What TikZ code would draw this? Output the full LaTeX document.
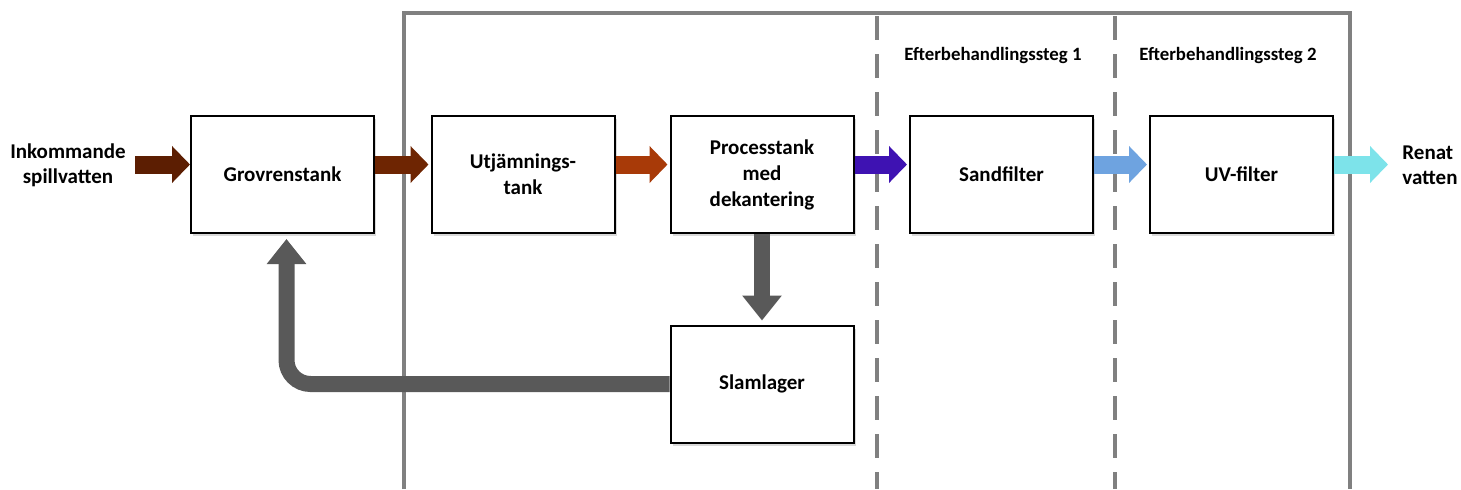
\documentclass[tikz,border=0pt]{standalone}
\usepackage{fontspec}
\setmainfont{Carlito}
\usetikzlibrary{arrows.meta,shadows}
% flow colours
\definecolor{rawwater}{RGB}{92,30,2}
\definecolor{coarsewater}{RGB}{110,37,2}
\definecolor{evenwater}{RGB}{168,58,8}
\definecolor{decantwater}{RGB}{62,18,178}
\definecolor{sandwater}{RGB}{110,163,224}
\definecolor{cleanwater}{RGB}{125,227,234}
\definecolor{sludge}{RGB}{89,89,89}
\definecolor{framegray}{RGB}{128,128,128}
\begin{document}
\begin{tikzpicture}[x=0.5pt,y=-0.5pt,
    tank/.style={draw, line width=1pt, fill=white, minimum width=91.5pt, minimum height=58.5pt,
        align=center, font=\bfseries\fontsize{10.5}{13}\selectfont,
        drop shadow={opacity=0.3, shadow xshift=1pt, shadow yshift=-1.5pt}},
    label/.style={align=center, inner sep=0pt, font=\bfseries\fontsize{10.5}{12.5}\selectfont},
    steplabel/.style={inner sep=0pt, font=\bfseries\fontsize{9.4}{11}\selectfont},
    flow/.style={line width=9pt, -{Triangle[length=9pt,width=18pt]}},
    sludgeflow/.style={sludge, line width=8pt, -{Triangle[length=12.5pt,width=19pt]}}]
    \useasboundingbox (0,0) rectangle (1461,489);
    % Plant frame and step borders
    \draw[framegray, line width=2pt] (404,489) -- (404,13) -- (1350,13) -- (1350,489);
    \draw[framegray, line width=2pt, dash pattern=on 12pt off 7pt] (877,16) -- (877,489);
    \draw[framegray, line width=2pt, dash pattern=on 12pt off 7pt] (1115,16) -- (1115,489);
    \node[steplabel] (step1) at (993,55) {Efterbehandlingssteg 1};
    \node[steplabel] (step2) at (1228,55) {Efterbehandlingssteg 2};
    % Tanks
    \node[tank] (grov) at (282.5,174.5) {Grovrenstank};
    \node[tank] (utj) at (523,174.5) {Utjämnings-\\tank};
    \node[tank] (proc) at (762,174.5) {Processtank\\med\\dekantering};
    \node[tank] (sand) at (1001.5,174.5) {Sandfilter};
    \node[tank] (uv) at (1241.5,174.5) {UV-filter};
    \node[tank] (slam) at (762,384) {Slamlager};
    % In and out
    \node[label] (in) at (68,165) {Inkommande\\spillvatten};
    \node[label, anchor=west, align=left] (out) at (1402,165) {Renat\\vatten};
    % Water flow
    \draw[flow, rawwater, shorten <=4.5pt] ([yshift=5pt]grov.west -| in.east) -- ([yshift=5pt]grov.west);
    \draw[flow, coarsewater, shorten >=1pt] ([yshift=5pt]grov.east) -- ([yshift=5pt]utj.west);
    \draw[flow, evenwater, shorten >=1pt] ([yshift=5pt]utj.east) -- ([yshift=5pt]proc.west);
    \draw[flow, decantwater, shorten >=1pt] ([yshift=5pt]proc.east) -- ([yshift=5pt]sand.west);
    \draw[flow, sandwater, shorten >=1pt] ([yshift=5pt]sand.east) -- ([yshift=5pt]uv.west);
    \draw[flow, cleanwater, shorten >=7pt] ([yshift=5pt]uv.east) -- ([yshift=5pt]uv.east -| out.west);
    % Sludge
    \draw[sludgeflow, shorten >=2pt] (proc.south) -- (slam.north);
    \draw[sludgeflow, rounded corners=12pt] (slam.west) -| ([xshift=2pt,yshift=-2.5pt]grov.south);
\end{tikzpicture}
\end{document}
